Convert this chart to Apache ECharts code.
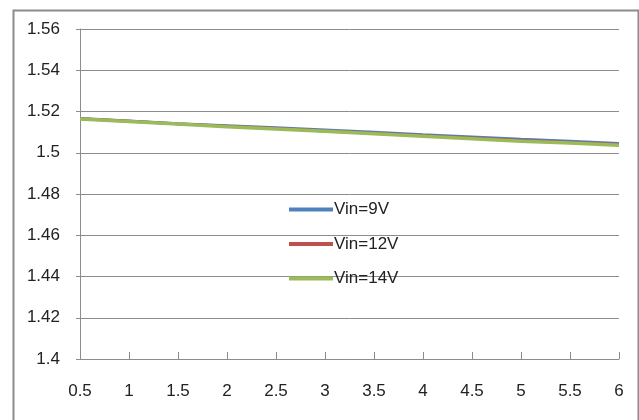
<!DOCTYPE html>
<html><head><meta charset="utf-8">
<script src="https://cdn.jsdelivr.net/npm/echarts@6/dist/echarts.min.js"></script>
<style>html,body{margin:0;padding:0;background:#fff}#c{width:639px;height:420px}</style>
</head><body><div id="c"></div>
<script>
var categories = ['0.5','1','1.5','2','2.5','3','3.5','4','4.5','5','5.5','6'];
var vin9  = [1.5166,1.5154,1.5141,1.5131,1.5121,1.5110,1.5099,1.5087,1.5076,1.5065,1.5056,1.5045];
var vin12 = [1.5165,1.5153,1.5140,1.5128,1.5117,1.5106,1.5095,1.5083,1.5072,1.5060,1.5050,1.5040];
var vin14 = [1.5164,1.5152,1.5139,1.5126,1.5115,1.5104,1.5092,1.5080,1.5068,1.5056,1.5047,1.5036];
var seriesNames = ['Vin=9V','Vin=12V','Vin=14V'];
var colors = ['#4F81BD','#C0504D','#9BBB59'];
var font = 'Liberation Sans';
var chart = echarts.init(document.getElementById('c'));
chart.setOption({
  animation:false,
  color:colors,
  graphic:[{type:'rect',left:11,top:8,shape:{width:625,height:430},style:{fill:'none',stroke:'#8c8c8c',lineWidth:2},z:-1}],
  grid:{left:80,right:20,top:29,bottom:61,containLabel:false},
  legend:{orient:'vertical',left:284,top:196,itemWidth:44,itemHeight:4,itemGap:17.5,icon:'rect',
    textStyle:{fontFamily:font,fontSize:17,color:'#222',padding:[0,0,0,-4]},
    data:seriesNames},
  xAxis:{type:'category',data:categories,boundaryGap:false,
    axisLine:{lineStyle:{color:'#8c8c8c',width:1}},
    axisTick:{inside:true,length:7,lineStyle:{color:'#8c8c8c'}},
    axisLabel:{fontFamily:font,fontSize:17,color:'#222',margin:24}},
  yAxis:{type:'value',min:1.4,max:1.56,interval:0.02,
    axisLine:{show:true,lineStyle:{color:'#8c8c8c',width:1}},
    axisTick:{show:true,length:4,lineStyle:{color:'#8c8c8c'}},
    splitLine:{lineStyle:{color:'#8c8c8c',width:1}},
    axisLabel:{fontFamily:font,fontSize:17,color:'#222',margin:20}},
  series:[
    {name:seriesNames[0],type:'line',data:vin9,symbol:'none',lineStyle:{width:3}},
    {name:seriesNames[1],type:'line',data:vin12,symbol:'none',lineStyle:{width:3}},
    {name:seriesNames[2],type:'line',data:vin14,symbol:'none',lineStyle:{width:3.5}}
  ]
});
</script></body></html>
